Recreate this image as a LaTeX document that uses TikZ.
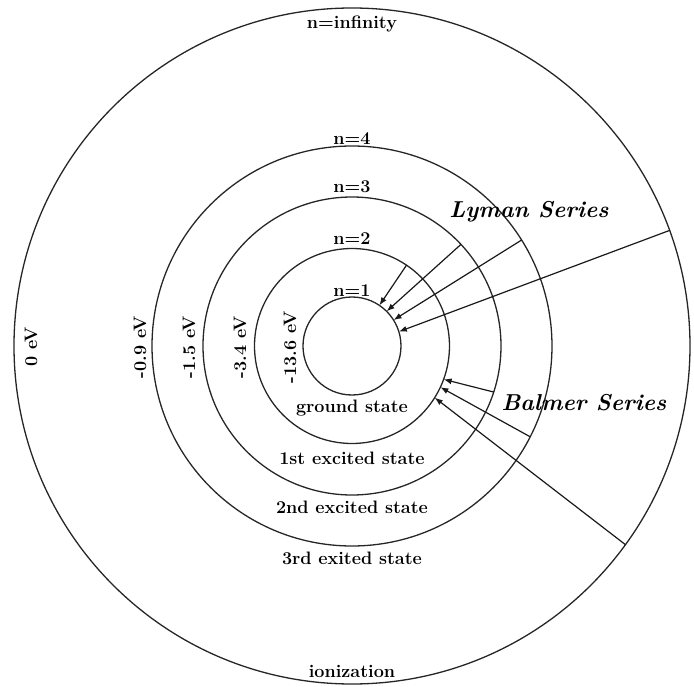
\documentclass[tikz,border=0pt]{standalone}
\usetikzlibrary{arrows.meta}
\tikzset{
	orbit/.style={
			circle,
			draw=black!85,
			line width=1.3pt,
			inner sep=0pt,
			outer sep=0pt
		},
	levellabel/.style={
			font=\fontsize{18}{21}\selectfont\bfseries,
			inner sep=1pt
		},
	energylabel/.style={
			levellabel,
			rotate=90
		},
	serieslabel/.style={
			font=\fontsize{23}{27}\selectfont\bfseries\itshape,
			inner sep=1pt
		},
	transition/.style={
			draw=black!90,
			line width=1.2pt,
			-{Latex[length=8pt,width=6pt]}
		}
}

\begin{document}
\begin{tikzpicture}[x=1pt, y=1pt]
\useasboundingbox (-352,-340) rectangle (342,346);

% orbits
\node[orbit, minimum size=98pt] (c1) at (0,0) {};
\node[orbit, minimum size=195pt] (c2) at (0,0) {};
\node[orbit, minimum size=298pt] (c3) at (0,0) {};
\node[orbit, minimum size=400pt] (c4) at (0,0) {};
\node[orbit, minimum size=676pt] (c5) at (0,0) {};

% levels
\node[levellabel] (lvinf) at (0,322) {n=infinity};
\node[levellabel] (lv4) at (0,207) {n=4};
\node[levellabel] (lv3) at (0,159) {n=3};
\node[levellabel] (lv2) at (0,107) {n=2};
\node[levellabel] (lv1) at (0,55) {n=1};

\node[energylabel] (e5) at (-321,-1) {0 eV};
\node[energylabel] (e4) at (-212,-1) {-0.9 eV};
\node[energylabel] (e3) at (-163,-1) {-1.5 eV};
\node[energylabel] (e2) at (-112,-1) {-3.4 eV};
\node[energylabel] (e1) at (-62,-1) {-13.6 eV};

\node[levellabel] (s1) at (0,-62) {ground state};
\node[levellabel] (s2) at (0,-112) {1st excited state};
\node[levellabel] (s3) at (0,-161) {2nd excited state};
\node[levellabel] (s4) at (0,-212) {3rd exited state};
\node[levellabel] (s5) at (0,-325) {ionization};

\node[serieslabel] (lyman) at (177,134) {Lyman Series};
\node[serieslabel] (balmer) at (232,-57) {Balmer Series};

% Lyman
\draw[transition] (c2.56.8) -- (c1.56.3);
\draw[transition] (c3.43.4) -- (c1.45);
\draw[transition] (c4.32.3) -- (c1.32);
\draw[transition] (c5.20.5) -- (c1.17.4);

% Balmer
\draw[transition] (c3.-18.8) -- (c2.-20.2);
\draw[transition] (c4.-27.7) -- (c2.-25.5);
\draw[transition] (c5.-36.6) -- (c2.-32.2);

\end{tikzpicture}
\end{document}
